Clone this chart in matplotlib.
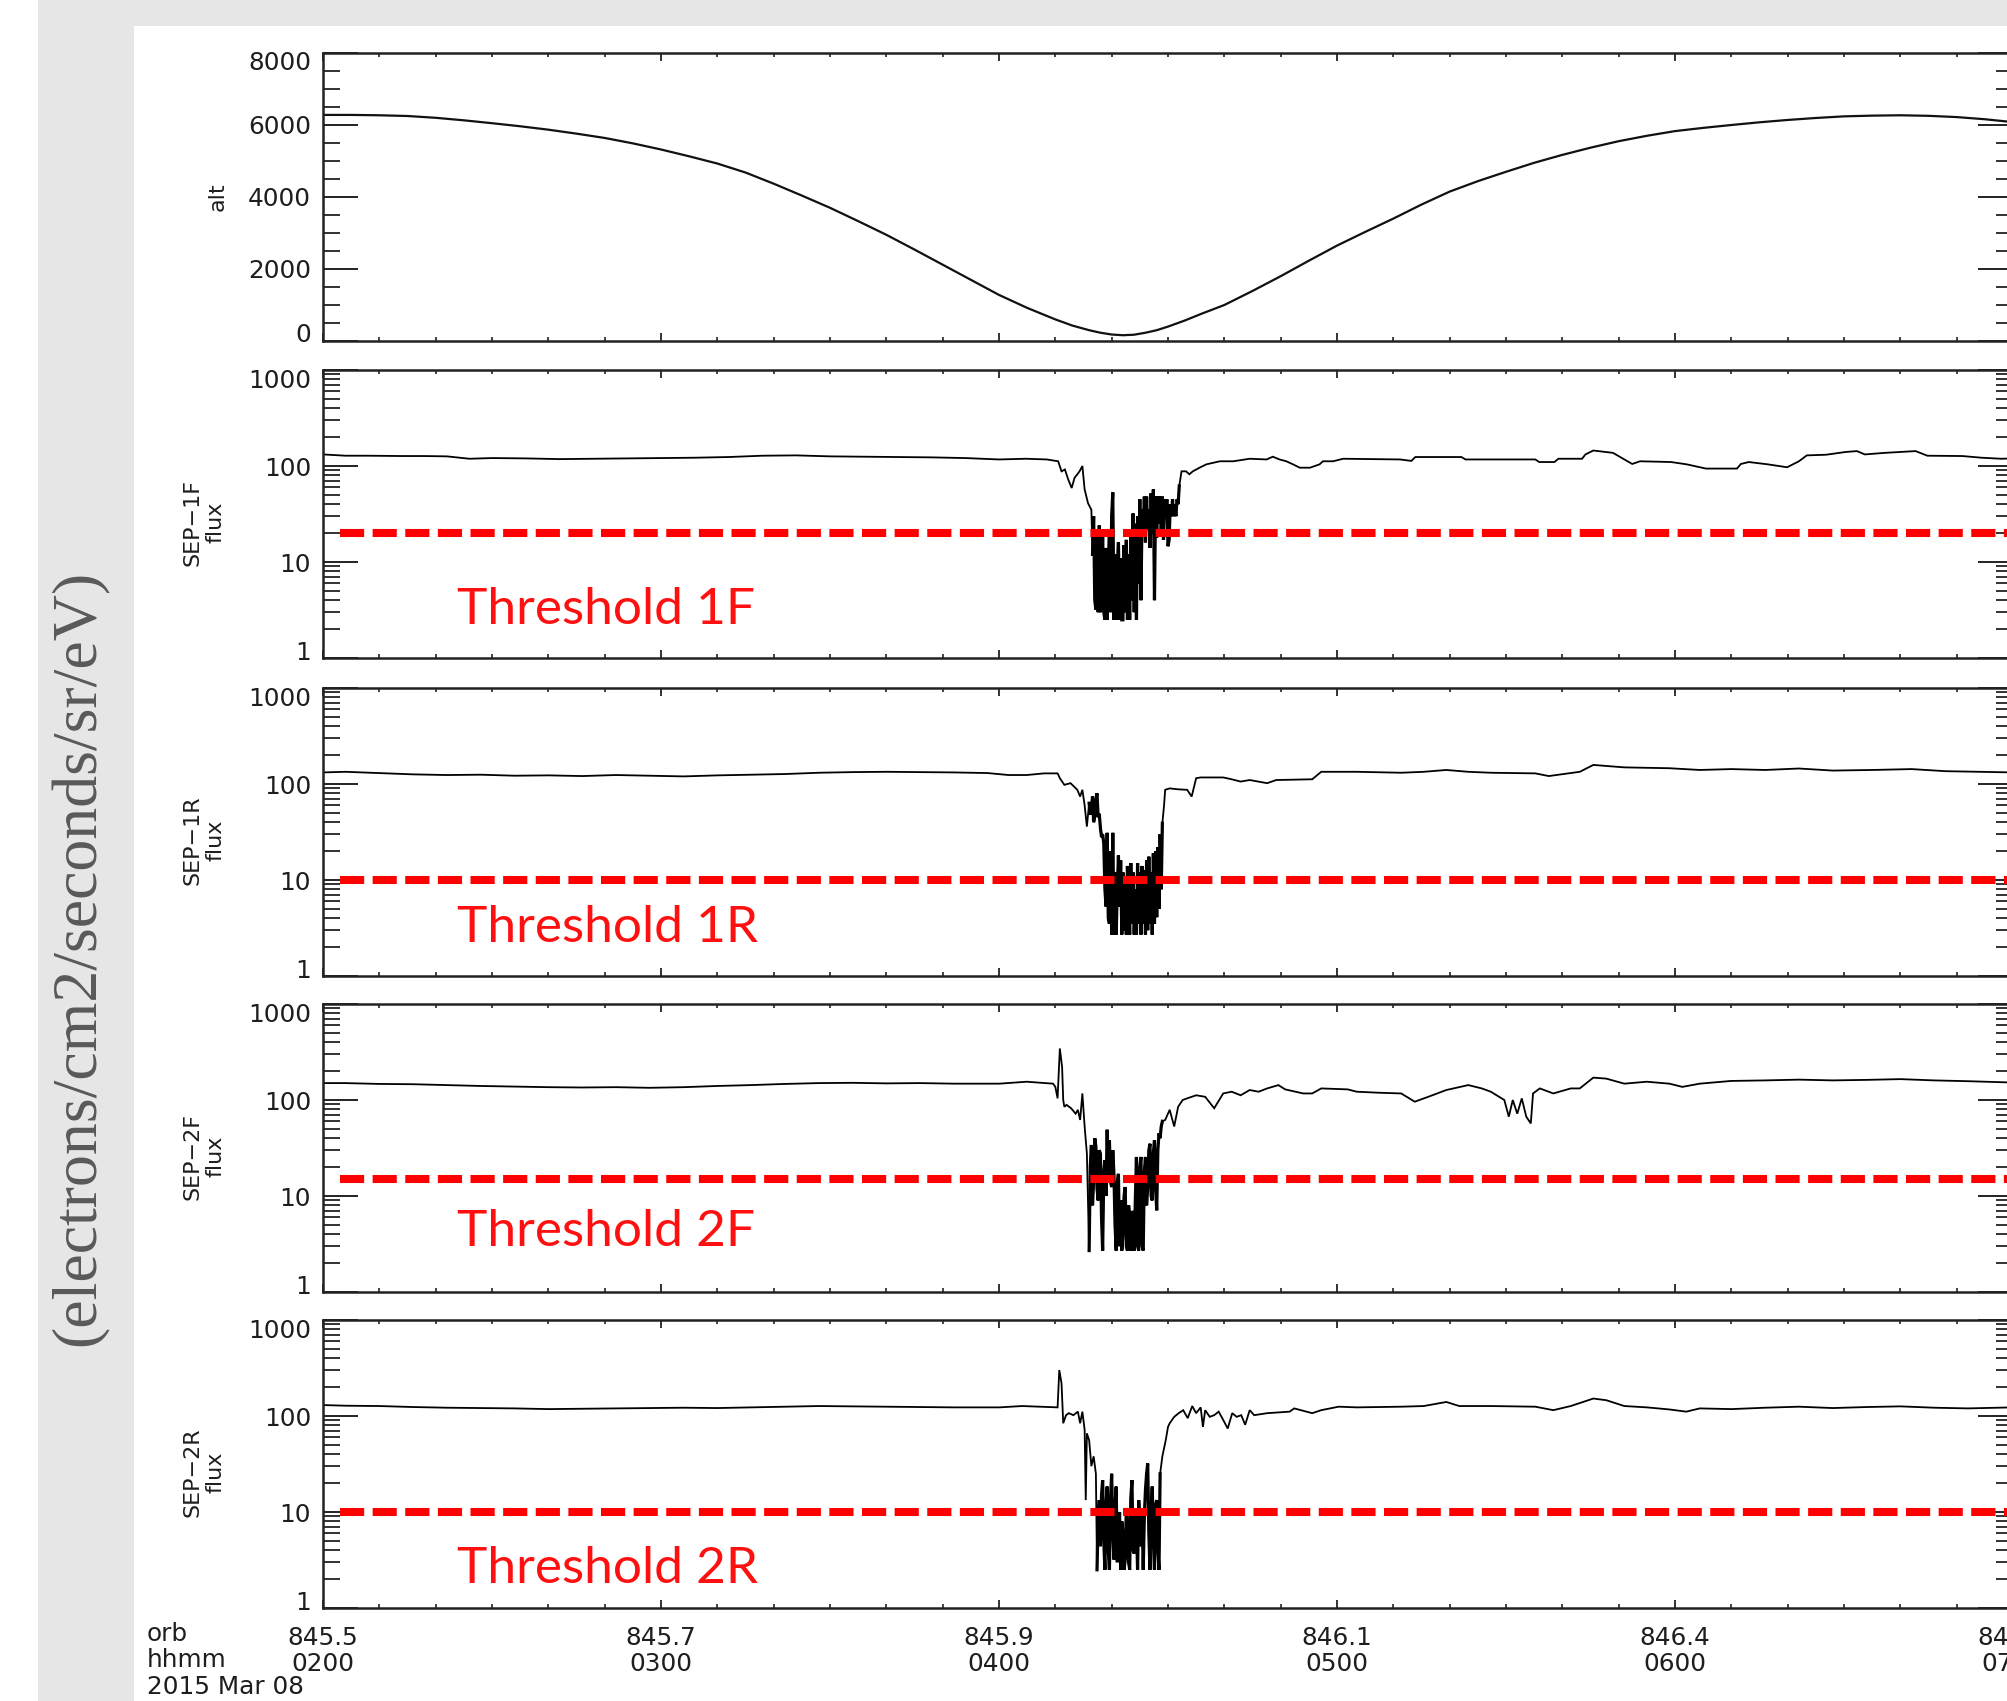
import numpy as np
import matplotlib
matplotlib.use("Agg")
import matplotlib.pyplot as plt
from matplotlib.patches import Rectangle
from matplotlib.ticker import FixedLocator, FixedFormatter, MultipleLocator, NullFormatter
import matplotlib.transforms as mtransforms

# ---------------- data (time in minutes after 02:00 UT) ----------------
alt_t = [0, 5, 10, 15, 20, 25, 30, 35, 40, 45, 50, 55, 60, 65, 70, 75, 80, 85, 90, 95,
         100, 105, 110, 115, 120, 125, 130, 133, 136, 138, 140, 142, 144, 146, 148, 150,
         153, 156, 160, 165, 170, 175, 180, 185, 190, 195, 200, 205, 210, 215, 220, 225,
         230, 235, 240, 245, 250, 255, 260, 265, 270, 275, 280, 285, 290, 295, 300]
alt_v = [6280, 6280, 6270, 6250, 6200, 6130, 6050, 5965, 5870, 5760, 5640, 5490, 5320, 5130,
         4930, 4680, 4370, 4040, 3700, 3330, 2950, 2540, 2120, 1700, 1280, 920, 600, 430,
         300, 230, 180, 160, 175, 230, 300, 400, 570, 760, 1000, 1390, 1800, 2230, 2650,
         3030, 3400, 3790, 4150, 4440, 4700, 4950, 5170, 5370, 5550, 5700, 5830, 5920, 6000,
         6075, 6140, 6195, 6240, 6260, 6270, 6255, 6220, 6160, 6080]

DENSE_STEP = 0.2

f1F_pre_t = [0, 2, 4, 8, 14, 18, 22, 26, 30, 36, 42, 48, 54, 60, 66, 72, 78, 84, 90, 96,
             102, 108, 114, 120, 124.8, 126.6, 128.5, 130.5, 131.1, 131.7, 132.3, 132.9,
             133.4, 134.3, 134.8, 135.2, 135.8, 136.4]
f1F_pre_v = [132, 130, 128, 128, 127, 127, 126, 119, 121, 120, 118, 119, 120, 121, 122, 124,
             128, 129, 126, 125, 124, 123, 121, 117, 119, 118, 117, 112, 88, 92, 72, 59, 75,
             88, 100, 57, 41, 35]
f1F_dense_start = 136.6
f1F_dense_v = [12, 30, 4, 3.2, 18, 3, 24, 3, 5.6, 20,
               3, 2.5, 14, 2.5, 9, 22, 3, 30, 53, 2.5,
               12, 2.5, 9, 16, 2.5, 11, 2.5, 2.5, 15, 3,
               17, 2.5, 12, 2.5, 20, 4, 32, 3, 25, 2.5,
               30, 6, 45, 4, 35, 20, 48, 16, 48, 22,
               35, 14, 52, 20, 57, 4, 48, 18, 48, 25,
               48, 20, 48, 17, 45, 30, 45, 14.6, 17, 40,
               30, 45, 30, 40, 30, 45, 40, 62]
f1F_post_t = [152.4, 153.2, 153.8, 154.4, 155.6, 156.8, 158.0, 159.2, 161.6, 164.5,
              167.5, 168.6, 169.8, 171.0, 172.2, 173.4, 175.2, 176.9, 177.5, 179.3,
              181.1, 186, 191.2, 193.2, 193.9, 202.1, 202.8, 215.2, 215.9, 218.6,
              219.3, 223.5, 224.1, 225.5, 229.0, 231.0, 232.4, 233.8, 239.3, 242.1,
              245.5, 251.0, 251.7, 253.1, 256.5, 259.9, 262.0, 263.4, 266.8, 270.3,
              272.3, 273.7, 277.2, 282.7, 284.8, 291.0, 294.4, 297.9, 300]
f1F_post_v = [88, 88, 82, 88, 96, 104, 108, 112, 112, 119,
              117, 125, 117, 112, 104, 96, 96, 104, 112, 112,
              119, 118, 117, 113, 124, 124, 117, 117, 110, 110,
              119, 119, 132, 145, 137, 117, 105, 112, 110, 104,
              94, 94, 105, 110, 104, 97, 112, 129, 131, 140,
              143, 132, 137, 143, 128, 127, 122, 119, 120]

f1R_pre_t = [0, 4, 10, 16, 22, 28, 34, 40, 46, 52, 58, 64, 70, 76, 82, 88, 94, 100, 106, 112,
             118, 121.7, 124.9, 128, 130.4, 130.8, 131.6, 132.7, 133.9, 134.4, 134.8, 135.2, 135.6]
f1R_pre_v = [132, 134, 130, 126, 124, 125, 122, 123, 121, 124, 122, 120, 123, 125, 127, 131,
             133, 134, 133, 132, 130, 124, 124, 129, 129, 115, 98, 102, 87, 74, 87, 60, 36]
f1R_dense_start = 136.0
f1R_dense_v = [63, 48, 54, 74, 40, 46, 70, 80, 45, 49,
               35, 28, 30, 24, 8, 5.3, 31, 4, 3.5, 20,
               2.7, 31, 2.7, 12, 2.7, 7.9, 18, 5.3, 16, 2.7,
               12, 3, 10.8, 2.7, 14, 5.3, 2.7, 15, 3.5, 12,
               2.7, 8, 2.7, 15, 3.5, 12, 2.7, 14, 3.5, 12.7,
               2.7, 16, 3, 17.5, 3.5, 12, 2.7, 19, 3.5, 20,
               4.1, 22, 5, 30, 8, 39]
f1R_post_t = [149.3, 149.5, 150.3, 151.8, 153.4, 154.2, 155.0, 155.8, 159.8, 161.3,
              162.9, 164.5, 167.6, 169.2, 175.6, 177.2, 183.5, 191.4, 195.4, 199.4,
              203.3, 207.3, 215.2, 217.6, 223.1, 225.5, 231.0, 239.0, 244.4, 250,
              256, 262, 268, 275, 282, 288, 294, 300]
f1R_post_v = [60, 87, 90, 88, 87, 74, 115, 117, 117, 112,
              106, 110, 102, 110, 112, 134, 134, 131, 134, 140,
              134, 131, 129, 121, 134, 158, 149, 146, 140, 143,
              140, 145, 138, 140, 143, 136, 134, 132]

f2F_pre_t = [0, 4, 10, 16, 22, 28, 34, 40, 46, 52, 58, 64, 70, 76, 82, 88, 94, 100, 106, 112,
             118, 120.1, 124.9, 129.6, 130.0, 130.4, 130.8, 131.2, 131.4, 131.6,
             132.0, 132.8, 133.6, 134.0, 134.4, 134.8, 135.2, 135.6]
f2F_pre_v = [150, 150, 147, 146, 143, 140, 138, 136, 135, 136, 134, 136, 140, 143, 147, 150,
             151, 149, 150, 148, 148, 148, 155, 148, 137, 104, 344, 221, 100, 85,
             89, 82, 72, 79, 62, 117, 53, 27.7]
f2F_dense_start = 136.0
f2F_dense_v = [2.7, 20, 34, 8, 14.6, 40, 32.5, 12, 9, 30,
               27.7, 6, 2.7, 18, 23.6, 10, 49, 15, 38, 14,
               12.4, 30, 17, 5, 2.7, 14, 17, 3, 9, 2.7,
               4, 10, 12.4, 3, 2.7, 8, 6.5, 2.7, 4, 7,
               2.7, 9, 25.5, 3, 2.7, 20, 25.5, 3, 2.7, 18,
               25.5, 8, 12.4, 30, 35, 10, 9, 28, 38, 12,
               7.1, 30, 45, 40, 53, 60]
f2F_post_t = [149.5, 150.3, 151.1, 151.8, 152.6, 153.4, 155.0, 156.6, 158.2, 159.8,
              161.3, 162.9, 164.5, 166.1, 167.6, 169.6, 170.8, 174.0, 175.6, 177.2,
              181.9, 183.5, 187.5, 191.4, 193.8, 196.2, 199.4, 203.3, 205.7, 207.3,
              209.7, 210.5, 211.2, 212.0, 212.8, 213.6, 214.4, 214.8, 216.0, 218.4,
              221.5, 223.1, 225.5, 227.8, 231.0, 235.0, 239.0, 241.3, 244.4, 250,
              256, 262, 268, 274, 280, 286, 292, 300]
f2F_post_v = [62, 79, 53, 85, 100, 104, 112, 108, 82, 117,
              122, 112, 127, 122, 132, 143, 129, 117, 117, 132,
              129, 122, 119, 117, 96, 108, 127, 143, 132, 122,
              100, 67, 100, 72, 104, 67, 57, 117, 132, 117,
              132, 132, 171, 167, 148, 155, 148, 137, 148, 158,
              160, 163, 160, 162, 165, 160, 157, 152]

f2R_pre_t = [0, 4, 10, 16, 22, 28, 34, 40, 46, 52, 58, 64, 70, 76, 82, 88, 94, 100, 106, 112,
             118, 120.1, 124.1, 130.4, 130.7, 131.1, 131.4, 131.9, 132.4, 133.2,
             134.0, 134.4, 134.8, 135.2, 135.4, 135.6, 136.0, 136.4, 136.8, 137.2]
f2R_pre_v = [130, 128, 127, 124, 122, 121, 120, 118, 119, 120, 121, 122, 121, 123, 125, 127,
             126, 125, 124, 123, 123, 123, 127, 123, 301, 219, 84, 102, 107, 102,
             111, 84, 111, 72, 13.3, 66, 56, 30, 38, 25]
f2R_dense_start = 137.4
f2R_dense_v = [2.5, 9, 13.3, 4.4, 15, 21.5, 5, 2.5, 12, 18.4,
               4, 2.5, 14, 25, 6, 3.2, 12, 18.4, 3, 4.4,
               10, 2.5, 8, 6, 2.5, 3.2, 11, 8.3, 3, 2.5,
               14, 21.5, 4, 3.7, 10, 7, 2.5, 13.3, 8, 4.4,
               11, 2.5, 9, 17, 25, 32, 6, 2.5, 10, 18.4,
               5, 2.5, 12, 13.3, 4, 2.5, 25]
f2R_post_t = [149.0, 149.6, 150.0, 150.3, 151.1, 151.9, 152.7, 153.5, 154.3, 155.0,
              155.8, 156.2, 156.6, 157.4, 158.2, 159.0, 159.8, 160.6, 161.4, 162.2,
              163.0, 163.7, 164.5, 165.3, 167.6, 171.6, 172.4, 175.6, 177.2, 180.3,
              183.5, 191.4, 195.4, 199.4, 201.7, 207.3, 215.2, 218.4, 221.5, 225.5,
              227.8, 231.0, 235.0, 239.0, 242.0, 244.4, 250, 256, 262, 268,
              274, 280, 286, 292, 300]
f2R_post_v = [38, 56, 77, 84, 98, 107, 115, 95, 127, 107,
              123, 77, 115, 98, 102, 111, 91, 74, 107, 98,
              102, 81, 115, 102, 107, 111, 120, 107, 115, 125,
              123, 125, 127, 140, 127, 127, 125, 115, 127, 152,
              146, 127, 123, 117, 111, 120, 118, 122, 125, 121,
              124, 126, 122, 120, 123]

flux_labels = ["SEP\u22121F\nflux", "SEP\u22121R\nflux", "SEP\u22122F\nflux", "SEP\u22122R\nflux"]
thresholds = [20, 10, 15, 10]
threshold_texts = ["Threshold 1F", "Threshold 1R", "Threshold 2F", "Threshold 2R"]

xtick_pos = [0, 60, 120, 180, 240, 300]
xtick_orb = ["845.5", "845.7", "845.9", "846.1", "846.4", "846.6"]
xtick_hhmm = ["0200", "0300", "0400", "0500", "0600", "0700"]

alt_ticks = [0, 2000, 4000, 6000, 8000]
log_ticks = [1, 10, 100, 1000]


def build(pre_t, pre_v, dstart, dvals, post_t, post_v):
    dt = dstart + DENSE_STEP * np.arange(len(dvals))
    t = np.concatenate([np.asarray(pre_t, float), dt, np.asarray(post_t, float)])
    v = np.concatenate([np.asarray(pre_v, float), np.asarray(dvals, float),
                        np.asarray(post_v, float)])
    return t, v, dt, np.asarray(dvals, float)


flux_series = [
    build(f1F_pre_t, f1F_pre_v, f1F_dense_start, f1F_dense_v, f1F_post_t, f1F_post_v),
    build(f1R_pre_t, f1R_pre_v, f1R_dense_start, f1R_dense_v, f1R_post_t, f1R_post_v),
    build(f2F_pre_t, f2F_pre_v, f2F_dense_start, f2F_dense_v, f2F_post_t, f2F_post_v),
    build(f2R_pre_t, f2R_pre_v, f2R_dense_start, f2R_dense_v, f2R_post_t, f2R_post_v),
]

# ---------------- layout ----------------
W, H = 2008, 1701
DPI = 100
fig = plt.figure(figsize=(W / DPI, H / DPI), dpi=DPI)
fig.patch.set_facecolor("#e6e6e6")


def fx(px):
    return px / W


def fy(py):
    return 1 - py / H


fig.patches.append(Rectangle((0, 0), fx(38), 1, transform=fig.transFigure,
                             facecolor="white", edgecolor="none", zorder=-10))
fig.patches.append(Rectangle((fx(134), 0), 1 - fx(134), 1 - 26 / H, transform=fig.transFigure,
                             facecolor="white", edgecolor="none", zorder=-10))

AX_L, AX_R = 323, 2013
tops = [53, 370, 688, 1004, 1320]
AX_H = 288
TXT = "#1e1e1e"
TICK_FS = 17.8

axes = []
for top in tops:
    ax = fig.add_axes([fx(AX_L), fy(top + AX_H), (AX_R - AX_L) / W, AX_H / H])
    ax.set_facecolor("white")
    for s in ax.spines.values():
        s.set_linewidth(1.8)
        s.set_color("#222222")
    ax.set_xlim(0, 300)
    ax.xaxis.set_major_locator(FixedLocator(xtick_pos))
    ax.xaxis.set_minor_locator(MultipleLocator(10))
    ax.tick_params(axis="x", which="major", direction="in", top=True, bottom=True,
                   length=5.5, width=1.3, color="#222222")
    ax.tick_params(axis="x", which="minor", direction="in", top=True, bottom=True,
                   length=3, width=1.2, color="#222222")
    ax.tick_params(axis="y", which="major", direction="in", left=True, right=True,
                   length=25, width=1.4, color="#222222", labelsize=TICK_FS,
                   labelcolor=TXT, pad=8.5)
    ax.tick_params(axis="y", which="minor", direction="in", left=True, right=True,
                   length=12, width=1.3, color="#222222")
    ax.set_xticklabels([])
    axes.append(ax)

# altitude panel
ax0 = axes[0]
ax0.plot(alt_t, alt_v, color="#111111", lw=1.6)
ax0.set_ylim(0, 8000)
ax0.yaxis.set_major_locator(FixedLocator(alt_ticks))
ax0.yaxis.set_major_formatter(FixedFormatter([str(v) for v in alt_ticks]))
ax0.yaxis.set_minor_locator(MultipleLocator(500))

# flux panels
for i, ax in enumerate(axes[1:]):
    t, v, dt, dv = flux_series[i]
    ax.set_yscale("log")
    ax.set_ylim(1, 1000)
    ax.plot(t, v, color="#000000", lw=1.3, solid_joinstyle="miter")
    # the densely sampled part of the same series, drawn heavier so it reads as a block
    ax.plot(dt, dv, color="#000000", lw=2.3, solid_joinstyle="miter")
    ax.plot([3, 310], [thresholds[i], thresholds[i]], color="#ff0000", lw=5.8,
            dashes=(3.0, 1.05), dash_capstyle="butt", zorder=5)
    ax.yaxis.set_major_locator(FixedLocator(log_ticks))
    ax.yaxis.set_major_formatter(FixedFormatter([str(v) for v in log_ticks]))
    ax.yaxis.set_minor_locator(FixedLocator([m * 10 ** d for d in range(3) for m in range(2, 10)]))
    ax.yaxis.set_minor_formatter(NullFormatter())

# bottom tick labels
axb = axes[-1]
axb.set_xticklabels([f"{o}\n{h}" for o, h in zip(xtick_orb, xtick_hhmm)])
axb.tick_params(axis="x", which="major", labelsize=TICK_FS, labelcolor=TXT, pad=13)
for lab in axb.get_xticklabels():
    lab.set_linespacing(1.12)

fig.text(fx(147), fy(1622), "orb\nhhmm\n2015 Mar 08", ha="left", va="top",
         fontsize=TICK_FS, color=TXT, linespacing=1.12)

# y labels
fig.text(fx(218), fy(tops[0] + AX_H / 2), "alt", rotation=90, ha="center", va="center",
         fontsize=16, color=TXT)
for i, lab in enumerate(flux_labels):
    fig.text(fx(204), fy(tops[i + 1] + AX_H / 2 + 8), lab, rotation=90, ha="center",
             va="center", multialignment="center", fontsize=16, color=TXT, linespacing=1.2)

# threshold annotations
text_base = [624, 942, 1246, 1583]
for i, s in enumerate(threshold_texts):
    fig.text(fx(457), fy(text_base[i]), s, ha="left", va="baseline", fontsize=37,
             color="#ff1010", family="Lato")

# unit label
fig.text(fx(80), fy(958), "(electrons/cm2/seconds/sr/eV)", rotation=90, ha="center",
         va="center", fontsize=46, color="#595959", family="Liberation Serif")

# nudge top/bottom y tick labels inward like the original
down = mtransforms.ScaledTranslation(0, -8 / DPI, fig.dpi_scale_trans)
up = mtransforms.ScaledTranslation(0, 8 / DPI, fig.dpi_scale_trans)
fig.canvas.draw()
for ax in axes:
    ticks = ax.yaxis.get_major_ticks()
    if ticks:
        ticks[0].label1.set_transform(ticks[0].label1.get_transform() + up)
        ticks[-1].label1.set_transform(ticks[-1].label1.get_transform() + down)

fig.savefig("out.png", dpi=DPI, facecolor=fig.get_facecolor())
